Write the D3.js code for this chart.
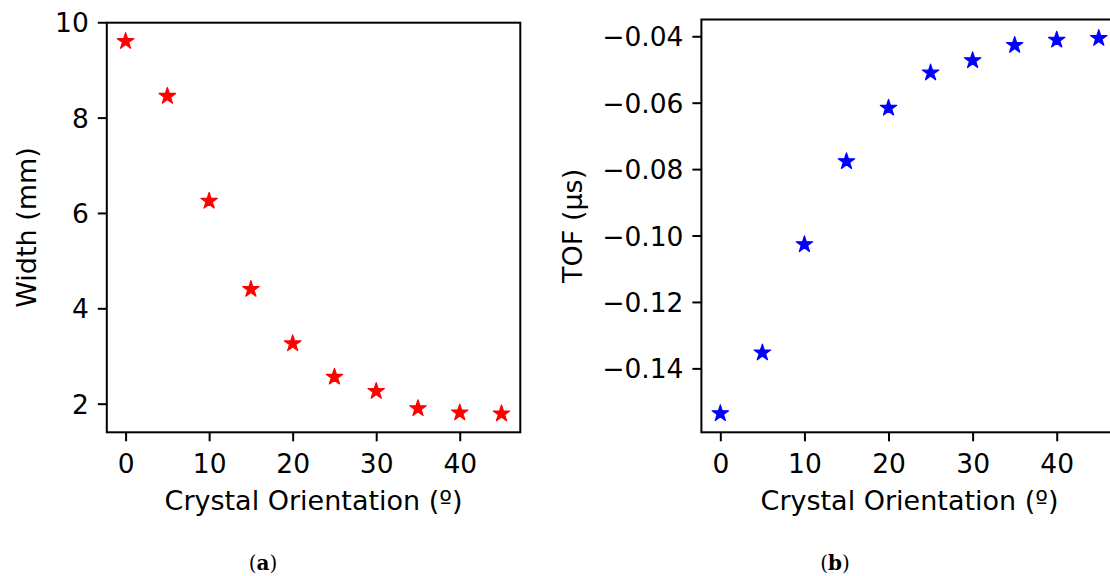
<!DOCTYPE html>
<html>
<head>
<meta charset="utf-8">
<script src="https://cdn.jsdelivr.net/npm/d3@7"></script>
<style>
  body { margin: 0; background: #fff; }
  svg { display: block; }
  .tick text { font-family: "DejaVu Sans", sans-serif; }
</style>
</head>
<body>
<div id="chart"></div>
<script>
// data
const angles = [0, 5, 10, 15, 20, 25, 30, 35, 40, 45];
const widthMm = [9.60, 8.45, 6.25, 4.40, 3.26, 2.56, 2.26, 1.90, 1.81, 1.79];
const tofUs = [-0.1536, -0.1353, -0.1027, -0.0777, -0.0616, -0.0510, -0.0473, -0.0427, -0.0411, -0.0406];
const xTicks = [0, 10, 20, 30, 40];
const widthTicks = [2, 4, 6, 8, 10];
const tofTicks = [-0.14, -0.12, -0.10, -0.08, -0.06, -0.04];
const xLabel = 'Crystal Orientation (º)';

const W = 1110, H = 576;
const svg = d3.select('#chart').append('svg')
  .attr('width', W)
  .attr('height', H);

// matplotlib style autoscale: 5% margin each side
function padded(values) {
  const [lo, hi] = d3.extent(values);
  const m = (hi - lo) * 0.05;
  return [lo - m, hi + m];
}

function drawPanel(p) {
  const x = d3.scaleLinear().domain(padded(angles)).range([p.left, p.right]);
  const y = d3.scaleLinear().domain(padded(p.values)).range([p.bottom, p.top]);

  const g = svg.append('g');

  const xAxis = g.append('g')
    .attr('transform', `translate(0,${p.bottom})`)
    .call(d3.axisBottom(x).tickValues(xTicks).tickSize(9).tickPadding(9).tickFormat(d3.format('d')));
  const yAxis = g.append('g')
    .attr('transform', `translate(${p.left},0)`)
    .call(d3.axisLeft(y).tickValues(p.ticks).tickSize(9).tickPadding(9).tickFormat(p.fmt));

  [xAxis, yAxis].forEach(a => {
    a.select('.domain').remove();
    a.selectAll('.tick line').attr('stroke', '#000').attr('stroke-width', 2);
    a.selectAll('.tick text').attr('fill', '#000').style('font-size', '26.5px');
  });
  xAxis.selectAll('.tick text').attr('dy', null).attr('y', 41);
  yAxis.selectAll('.tick text').attr('dy', '0.36em');

  // frame
  g.append('rect')
    .attr('x', p.left)
    .attr('y', p.top)
    .attr('width', p.right - p.left)
    .attr('height', p.bottom - p.top)
    .attr('fill', 'none')
    .attr('stroke', '#000')
    .attr('stroke-width', 2);

  // stars
  const star = d3.symbol(d3.symbolStar).size(84);
  g.selectAll('.pt')
    .data(angles.map((a, i) => [a, p.values[i]]))
    .enter()
    .append('path')
      .attr('class', 'pt')
      .attr('d', star)
      .attr('transform', d => `translate(${x(d[0])},${y(d[1])})`)
      .attr('fill', p.color)
      .attr('stroke', p.color)
      .attr('stroke-width', 1.2)
      .attr('stroke-linejoin', 'round');

  // labels
  g.append('text')
    .attr('x', (p.left + p.right) / 2)
    .attr('y', 510)
    .attr('text-anchor', 'middle')
    .style('font-family', '"DejaVu Sans", sans-serif')
    .style('font-size', '27px')
    .text(xLabel);

  g.append('text')
    .attr('transform', `translate(${p.ylabelX},${(p.top + p.bottom) / 2}) rotate(-90)`)
    .attr('text-anchor', 'middle')
    .style('font-family', '"DejaVu Sans", sans-serif')
    .style('font-size', '27px')
    .text(p.ylabel);

  const cap = svg.append('text')
    .attr('x', p.capX)
    .attr('y', 570)
    .attr('text-anchor', 'middle')
    .style('font-family', '"DejaVu Serif", serif')
    .style('font-size', '20px');
  cap.append('tspan').text('(');
  cap.append('tspan').style('font-weight', 'bold').text(p.cap);
  cap.append('tspan').text(')');
}

drawPanel({
  left: 106.8, right: 520.3, top: 22.7, bottom: 432.3,
  values: widthMm, ticks: widthTicks, fmt: d3.format('d'),
  color: '#ff0000', ylabel: 'Width (mm)', ylabelX: 35.5,
  capX: 263, cap: 'a'
});

drawPanel({
  left: 701.4, right: 1117.7, top: 19.5, bottom: 432.3,
  values: tofUs, ticks: tofTicks, fmt: d3.format('.2f'),
  color: '#0000ff', ylabel: 'TOF (µs)', ylabelX: 581.5,
  capX: 835, cap: 'b'
});
</script>
</body>
</html>
